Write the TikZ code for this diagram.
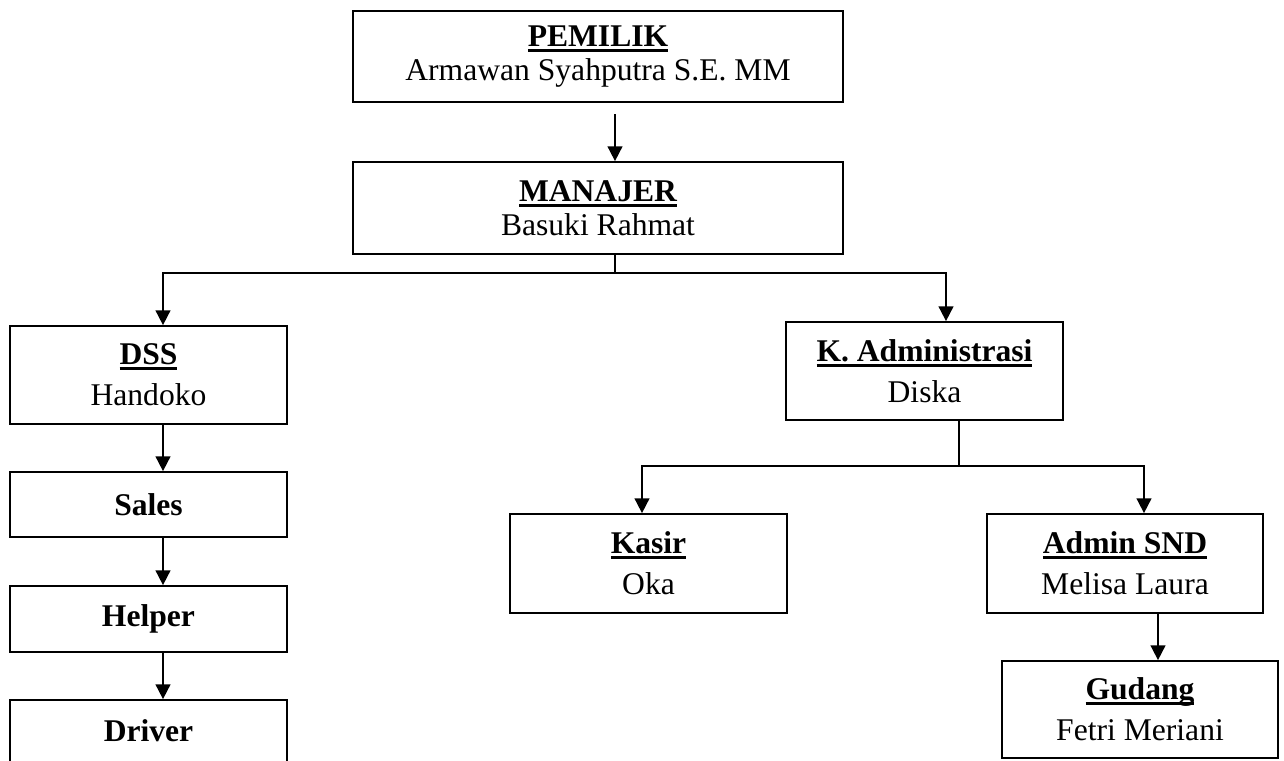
\documentclass[tikz,border=0pt]{standalone}
\usepackage{fontspec}
\setmainfont{Liberation Serif}
\usetikzlibrary{arrows.meta}
\newcommand\ulx[1]{\sbox0{#1}\rlap{\rule[-4pt]{\wd0}{2.2pt}}\usebox0}
\begin{document}
\begin{tikzpicture}[x=0.75pt,y=-0.75pt,
  orgbox/.style={draw, line width=1.3pt, align=center, inner sep=0pt,
    font=\fontsize{23.7}{30.75}\selectfont},
  topbox/.style={orgbox, font=\fontsize{23.7}{25.5}\selectfont},
  link/.style={line width=1.3pt},
  arr/.style={link, -{Triangle[width=11pt,length=11pt]}}]
\useasboundingbox (0,0) rectangle (1284,760);
\clip (0,0) rectangle (1284,760);

% top level
\node[topbox, minimum width=490*0.75pt, minimum height=91*0.75pt] (pemilik) at (598,56.5)
  {\textbf{\ulx{PEMILIK}}\\Armawan Syahputra S.E. MM};
\node[topbox, minimum width=490*0.75pt, minimum height=92*0.75pt] (manajer) at (598,208)
  {\textbf{\ulx{MANAJER}}\\Basuki Rahmat};

% left column
\node[orgbox, minimum width=277*0.75pt, minimum height=98*0.75pt] (dss) at (148.5,375)
  {\textbf{\ulx{DSS}}\\Handoko};
\node[orgbox, minimum width=277*0.75pt, minimum height=65*0.75pt] (sales) at (148.5,504.5)
  {\textbf{Sales}};
\node[orgbox, minimum width=277*0.75pt, minimum height=66*0.75pt] (helper) at (148.5,619)
  {\textbf{Helper}};
\node[orgbox, minimum width=277*0.75pt, minimum height=62*0.75pt] (driver) at (148.5,731)
  {\textbf{Driver}};

% right part
\node[orgbox, minimum width=277*0.75pt, minimum height=98*0.75pt] (kadmin) at (924.5,371)
  {\textbf{\ulx{K. Administrasi}}\\Diska};
\node[orgbox, minimum width=277*0.75pt, minimum height=99*0.75pt] (kasir) at (648.5,563.5)
  {\textbf{\ulx{Kasir}}\\Oka};
\node[orgbox, minimum width=276*0.75pt, minimum height=99*0.75pt] (adminsnd) at (1125,563.5)
  {\textbf{\ulx{Admin SND}}\\Melisa Laura};
\node[orgbox, minimum width=276*0.75pt, minimum height=97*0.75pt] (gudang) at (1140,709.5)
  {\textbf{\ulx{Gudang}}\\Fetri Meriani};

% junction coordinates
\coordinate (a0) at (615,114);
\coordinate (jM) at (615,273);
\coordinate (jL) at (163,273);
\coordinate (jR) at (946,273);
\coordinate (jK) at (959,466);
\coordinate (kL) at (642,466);
\coordinate (kR) at (1144,466);
\coordinate (gx) at (1158,640);

% connectors
\draw[arr] (a0) -- (a0 |- manajer.north);
\draw[link] (manajer.south -| jM) -- (jM);
\draw[arr] (jM) -- (jL) -- (jL |- dss.north);
\draw[arr] (jM) -- (jR) -- (jR |- kadmin.north);

\draw[arr] (dss.south -| jL) -- (sales.north -| jL);
\draw[arr] (sales.south -| jL) -- (helper.north -| jL);
\draw[arr] (helper.south -| jL) -- (driver.north -| jL);

\draw[link] (kadmin.south -| jK) -- (jK);
\draw[arr] (jK) -- (kL) -- (kL |- kasir.north);
\draw[arr] (jK) -- (kR) -- (kR |- adminsnd.north);
\draw[arr] (adminsnd.south -| gx) -- (gudang.north -| gx);
\end{tikzpicture}
\end{document}
